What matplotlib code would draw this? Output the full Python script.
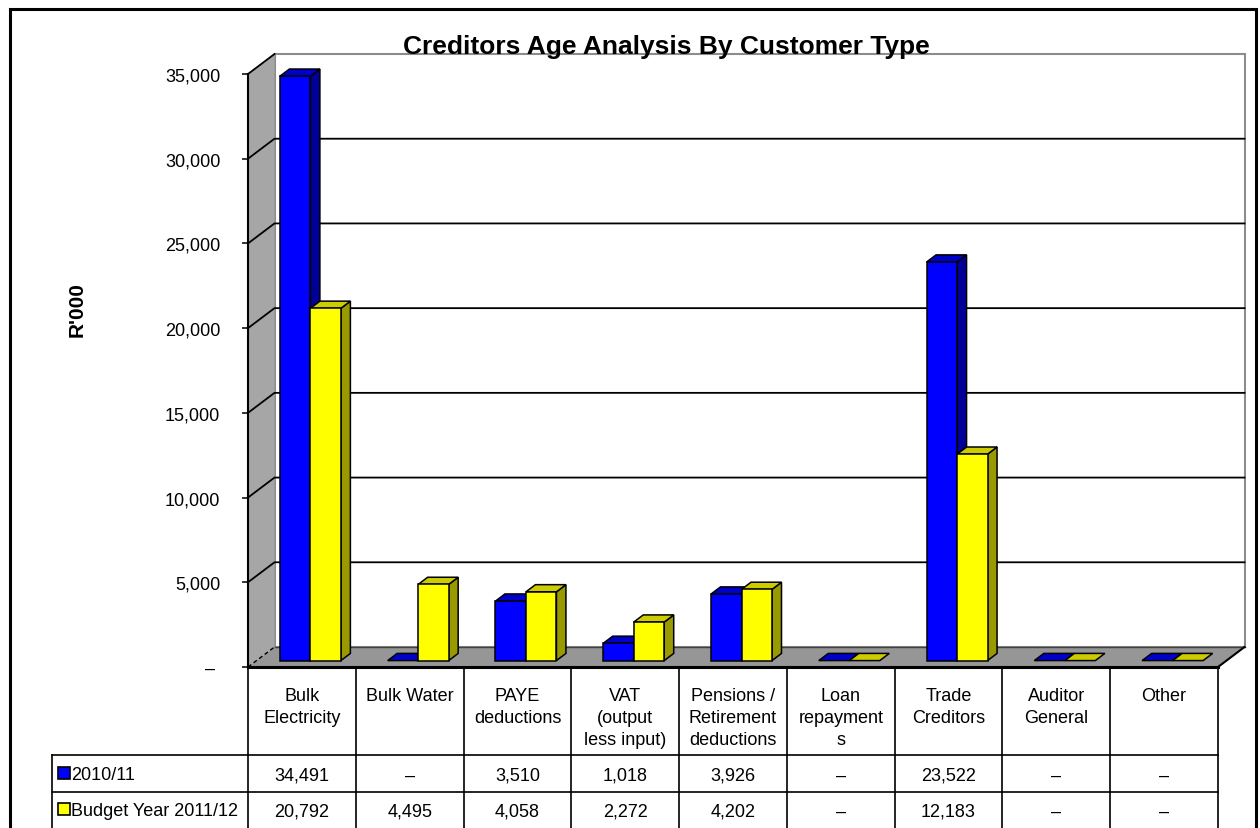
import numpy as np
import matplotlib
matplotlib.use('Agg')
import matplotlib.pyplot as plt
from matplotlib.patches import Polygon, Rectangle
from matplotlib.ticker import FuncFormatter

categories = ['Bulk\nElectricity', 'Bulk Water', 'PAYE\ndeductions', 'VAT\n(output\nless input)',
              'Pensions /\nRetirement\ndeductions', 'Loan\nrepayment\ns', 'Trade\nCreditors',
              'Auditor\nGeneral', 'Other']
series_names = ['2010/11', 'Budget Year 2011/12']
vals_2010 = [34491, 0, 3510, 1018, 3926, 0, 23522, 0, 0]
vals_2012 = [20792, 4495, 4058, 2272, 4202, 0, 12183, 0, 0]
y_ticks = [0, 5000, 10000, 15000, 20000, 25000, 30000, 35000]

# front, top, side colours per series
colors = [('#0000ff', '#0000cc', '#000099'),
          ('#ffff00', '#cccc00', '#999900')]

plt.rcParams['font.family'] = ['Liberation Sans', 'DejaVu Sans']

W, H = 1260, 829
fig = plt.figure(figsize=(W / 100, H / 100), dpi=100)

# front plane of the 3d box, in pixels
px_l, px_r, px_t, px_b = 248, 1218, 75, 668
ax = fig.add_axes([px_l / W, 1 - px_b / H, (px_r - px_l) / W, (px_b - px_t) / H])
n = len(categories)
ymax = y_ticks[-1]
ax.set_xlim(0, n)
ax.set_ylim(0, ymax)
ax.patch.set_visible(False)

ux = n / (px_r - px_l)
uy = ymax / (px_b - px_t)
dx, dy = 26.5 * ux, 20 * uy

# walls and floor
ax.add_patch(Polygon([(dx, dy), (n + dx, dy), (n + dx, ymax + dy), (dx, ymax + dy)],
                     closed=True, fc='white', ec='#8c8c8c', lw=1.5, clip_on=False, zorder=1))
ax.add_patch(Polygon([(0, 0), (dx, dy), (dx, ymax + dy), (0, ymax)],
                     closed=True, fc='#a6a6a6', ec='none', clip_on=False, zorder=1))
for v in y_ticks[1:-1]:
    ax.plot([0, dx, n + dx], [v, v + dy, v + dy], color='black', lw=1.3, clip_on=False, zorder=2)
ax.plot([0, dx], [ymax, ymax + dy], color='black', lw=1.3, clip_on=False, zorder=2)

ax.add_patch(Polygon([(0, 0), (n, 0), (n + dx, dy), (dx, dy)],
                     closed=True, fc='#969696', ec='none', clip_on=False, zorder=2))
ax.plot([dx, n + dx], [dy, dy], color='#404040', lw=1, clip_on=False, zorder=3)
ax.plot([n, n + dx], [0, dy], color='black', lw=1.5, clip_on=False, zorder=3)
ax.plot([0, dx], [0, dy], color='black', lw=1, ls=(0, (3, 2)), clip_on=False, zorder=3)
ax.plot([0, n], [0, 0], color='black', lw=2.2, clip_on=False, zorder=60)

# 3d bars
bw = 30.5 * ux
bdx = 9.5 * ux
bdy = 9.5 * (20 / 26.5) * uy
ox, oy = (dx - bdx) / 2, (dy - bdy) / 2
for i in range(n):
    for j, vals in enumerate([vals_2010, vals_2012]):
        front, top, side = colors[j]
        h = vals[i]
        x0 = i + 0.5 - bw + j * bw + ox
        z = 10 + 4 * i + 2 * j
        if h > 0:
            ax.add_patch(Polygon([(x0 + bw, oy), (x0 + bw + bdx, oy + bdy),
                                  (x0 + bw + bdx, oy + h + bdy), (x0 + bw, oy + h)],
                                 closed=True, fc=side, ec='black', lw=1.1, clip_on=False, zorder=z))
        ax.add_patch(Polygon([(x0, oy + h), (x0 + bw, oy + h),
                              (x0 + bw + bdx, oy + h + bdy), (x0 + bdx, oy + h + bdy)],
                             closed=True, fc=top, ec='black', lw=1.1, clip_on=False, zorder=z))
        if h > 0:
            ax.bar(x0, h, width=bw, bottom=oy, align='edge', color=front,
                   edgecolor='black', linewidth=1.1, clip_on=False, zorder=z + 1)

# value axis
ax.set_yticks(y_ticks)
ax.yaxis.set_major_formatter(FuncFormatter(lambda v, p: '\u2013 ' if v == 0 else f'{v:,.0f}'))
ax.tick_params(axis='y', length=4.5, width=1.1, pad=15.5, labelsize=13, direction='out')
ax.set_xticks([])
for s in ['top', 'right', 'bottom']:
    ax.spines[s].set_visible(False)
ax.spines['left'].set_linewidth(1.5)
ax.spines['left'].set_zorder(61)

# data table under the chart
tr = ax.get_xaxis_transform()


def ay(py):
    return (px_b - py) / (px_b - px_t)


x_lab = (52 - px_l) * ux
row_edges = [756, 793]
row_mid = [776, 812]
y_bottom = ay(H + 5)

for i, c in enumerate(categories):
    ax.text(i + 0.5, ay(688), c, transform=tr, ha='center', va='top', fontsize=13,
            multialignment='center', linespacing=1.38, clip_on=False)
for i in range(n + 1):
    ax.plot([i, i], [0, y_bottom], transform=tr, color='black', lw=1.2, clip_on=False)
ax.plot([x_lab, x_lab], [ay(row_edges[0]), y_bottom], transform=tr, color='black', lw=1.2, clip_on=False)
for e in row_edges:
    ax.plot([x_lab, n], [ay(e), ay(e)], transform=tr, color='black', lw=1.2, clip_on=False)

for r, vals in enumerate([vals_2010, vals_2012]):
    for i, v in enumerate(vals):
        ax.text(i + 0.5, ay(row_mid[r]), '\u2013' if v == 0 else f'{v:,}', transform=tr,
                ha='center', va='center', fontsize=13, clip_on=False)
    ax.plot([(64 - px_l) * ux], [ay(row_mid[r] - 2)], transform=tr, marker='s', ms=8,
            mfc=colors[r][0], mec='black', mew=1.2, clip_on=False)
    ax.text((71 - px_l) * ux, ay(row_mid[r]), series_names[r], transform=tr,
            ha='left', va='center', fontsize=13, clip_on=False)

# title, axis label, outer frame
fig.text(666 / W, 1 - 54 / H, 'Creditors Age Analysis By Customer Type', ha='center', va='baseline',
         fontsize=19, fontweight='bold', family=['Liberation Sans Narrow', 'Liberation Sans'])
fig.text(77 / W, 1 - 310 / H, "R'000", rotation=90, ha='center', va='center',
         fontsize=15, fontweight='bold')
fig.add_artist(Rectangle((9.5 / W, -0.05), (1256 - 9.5) / W, 1.05 - 10 / H, transform=fig.transFigure,
                         fill=False, ec='black', lw=2.2))

fig.savefig('out.png', dpi=100)
